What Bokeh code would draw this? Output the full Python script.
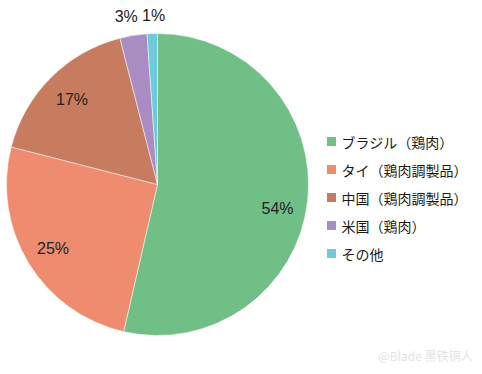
import math
from bokeh.plotting import figure
from bokeh.models import Range1d, ColumnDataSource
from bokeh.core.properties import value
from bokeh.embed import file_html
from bokeh.resources import INLINE

categories = ["ブラジル（鶏肉）", "タイ（鶏肉調製品）", "中国（鶏肉調製品）", "米国（鶏肉）", "その他"]
shares = [53.6, 25.4, 17.0, 2.9, 1.1]
labels = ["54%", "25%", "17%", "3%", "1%"]
colors = ["#70BF86", "#EF8C6F", "#C77C5F", "#A98DC2", "#6DC9DB"]
label_radius = [0.8, 0.81, 0.8, 1.13, 1.12]

W, H = 474, 366
p = figure(width=W, height=H, output_backend="svg", toolbar_location=None,
           x_range=Range1d(0, W), y_range=Range1d(0, H), min_border=0)
p.axis.visible = False
p.grid.visible = False
p.outline_line_color = None
p.background_fill_color = "white"
p.border_fill_color = "white"

def Y(img_y):
    return H - img_y

cx, cy, R = 157, Y(184), 151
total = sum(shares)
starts, ends, lx, ly = [], [], [], []
cum = 0.0
for s, lr in zip(shares, label_radius):
    a0 = math.pi / 2 - 2 * math.pi * cum / total
    cum += s
    a1 = math.pi / 2 - 2 * math.pi * cum / total
    starts.append(a0)
    ends.append(a1)
    mid = (a0 + a1) / 2
    lx.append(cx + lr * R * math.cos(mid))
    ly.append(cy + lr * R * math.sin(mid))
# small slices: spread their outside labels apart a little
lx[3] -= 4
lx[4] += 2
# largest slice label sits a bit lower, as in the original
ly[0] -= 10

src = ColumnDataSource(dict(start=starts, end=ends, color=colors, lx=lx, ly=ly, label=labels))
p.wedge(x=cx, y=cy, radius=R, start_angle="start", end_angle="end", direction="clock",
        fill_color="color", line_color="white", line_width=0.5, source=src)
p.text(x="lx", y="ly", text="label", source=src, text_align="center", text_baseline="middle",
       text_font=value("Liberation Sans"), text_font_size="16px", text_color="#222222")

# legend
lgx, lgy0, step = 331, Y(141), 28
ys = [lgy0 - i * step for i in range(len(categories))]
lsrc = ColumnDataSource(dict(x=[lgx] * len(categories), y=ys, tx=[lgx + 10] * len(categories),
                             color=colors, cat=categories))
p.scatter(x="x", y="y", marker="square", size=9, fill_color="color", line_color=None, source=lsrc)
p.text(x="tx", y="y", text="cat", source=lsrc, text_baseline="middle",
       text_font=value("Noto Sans CJK JP"), text_font_size="14px", text_color="#1a1a1a")

# watermark
p.text(x=[472], y=[Y(355)], text=["@Blade 黑铁铜人"], text_align="right", text_baseline="middle",
       text_font=value("Noto Sans CJK SC"), text_font_size="12px", text_color="#e2e2e2")

open("out.html", "w").write(file_html(p, INLINE))
